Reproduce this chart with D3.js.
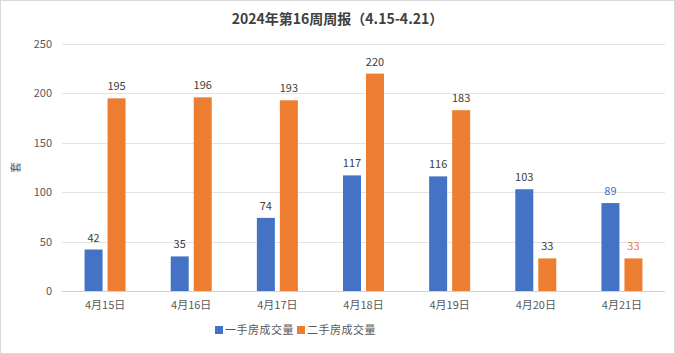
<!DOCTYPE html>
<html>
<head>
<meta charset="utf-8">
<script src="https://cdn.jsdelivr.net/npm/d3@7"></script>
<style>
  html, body { margin: 0; padding: 0; background: #fff; }
  svg { display: block; font-family: "Noto Sans CJK SC", "DejaVu Sans", sans-serif; }
</style>
</head>
<body>
<div id="chart"></div>
<script>
var categories = ['4月15日', '4月16日', '4月17日', '4月18日', '4月19日', '4月20日', '4月21日'];
var seriesNames = ['一手房成交量', '二手房成交量'];
var newHomes = [42, 35, 74, 117, 116, 103, 89];
var resales = [195, 196, 193, 220, 183, 33, 33];
var yTicks = [0, 50, 100, 150, 200, 250];
var colors = ['#4472c4', '#ed7d31'];

var W = 675, H = 354;
var margin = {top: 44, right: 10, bottom: 63, left: 62};
var w = W - margin.left - margin.right,
    h = H - margin.top - margin.bottom;

var svg = d3.select('#chart').append('svg')
    .attr('width', W)
    .attr('height', H);

svg.append('rect')
    .attr('x', 0.5).attr('y', 0.5)
    .attr('width', W - 1).attr('height', H - 1)
    .attr('fill', '#fff')
    .attr('stroke', '#d9d9d9');

svg.append('text')
    .attr('x', W / 2).attr('y', 24)
    .attr('text-anchor', 'middle')
    .attr('font-size', 14)
    .attr('font-weight', 'bold')
    .attr('fill', '#404040')
    .text('2024年第16周周报（4.15-4.21）');

var g = svg.append('g')
    .attr('transform', 'translate(' + margin.left + ',' + margin.top + ')');

var x = d3.scaleBand().domain(categories).range([0, w]);
var y = d3.scaleLinear().domain([0, 250]).range([h, 0]);

// grid lines
g.selectAll('.grid')
    .data(yTicks)
    .enter().append('line')
    .attr('x1', 0).attr('x2', w)
    .attr('y1', d => Math.round(y(d)) + 0.5)
    .attr('y2', d => Math.round(y(d)) + 0.5)
    .attr('stroke', d => d === 0 ? '#d0d0d0' : '#e3e3e3')
    .attr('stroke-width', 1);

// y axis labels
var yAxis = g.append('g')
    .call(d3.axisLeft(y).tickValues(yTicks).tickSize(0).tickPadding(10));
yAxis.select('.domain').remove();
yAxis.selectAll('text')
    .attr('font-size', 11)
    .attr('font-family', '"Noto Sans CJK SC", sans-serif')
    .attr('fill', '#595959');

// x axis labels
var xAxis = g.append('g')
    .attr('transform', 'translate(0,' + h + ')')
    .call(d3.axisBottom(x).tickSize(0).tickPadding(10));
xAxis.select('.domain').remove();
xAxis.selectAll('text')
    .attr('font-size', 11)
    .attr('font-family', '"Noto Sans CJK SC", sans-serif')
    .attr('fill', '#595959');

// y title
svg.append('text')
    .attr('transform', 'translate(20,' + (margin.top + h / 2) + ') rotate(-90)')
    .attr('text-anchor', 'middle')
    .attr('font-size', 11)
    .attr('fill', '#595959')
    .text('套');

var barW = 18, gap = 5;
var series = [newHomes, resales];

series.forEach(function(values, si) {
    var off = si === 0 ? -(barW + gap / 2) : gap / 2;
    g.selectAll('.bar' + si)
        .data(values)
        .enter().append('rect')
        .attr('x', (d, i) => x(categories[i]) + x.bandwidth() / 2 + off)
        .attr('y', d => y(d))
        .attr('width', barW)
        .attr('height', d => h - y(d))
        .attr('fill', colors[si]);

    g.selectAll('.lbl' + si)
        .data(values)
        .enter().append('text')
        .attr('x', (d, i) => x(categories[i]) + x.bandwidth() / 2 + off + barW / 2)
        .attr('y', d => y(d) - 8)
        .attr('text-anchor', 'middle')
        .attr('font-size', 11)
        .attr('fill', (d, i) => i === 6 ? colors[si] : '#404040')
        .text(d => d);
});

// legend
var legend = svg.append('g').attr('transform', 'translate(0,' + 330 + ')');
var legX = [215, 297];
seriesNames.forEach(function(name, i) {
    legend.append('rect')
        .attr('x', legX[i]).attr('y', -4)
        .attr('width', 8).attr('height', 8)
        .attr('fill', colors[i]);
    legend.append('text')
        .attr('x', legX[i] + 10).attr('y', 4)
        .attr('font-size', 11)
        .attr('letter-spacing', 0.5)
        .attr('fill', '#595959')
        .text(name);
});
</script>
</body>
</html>
